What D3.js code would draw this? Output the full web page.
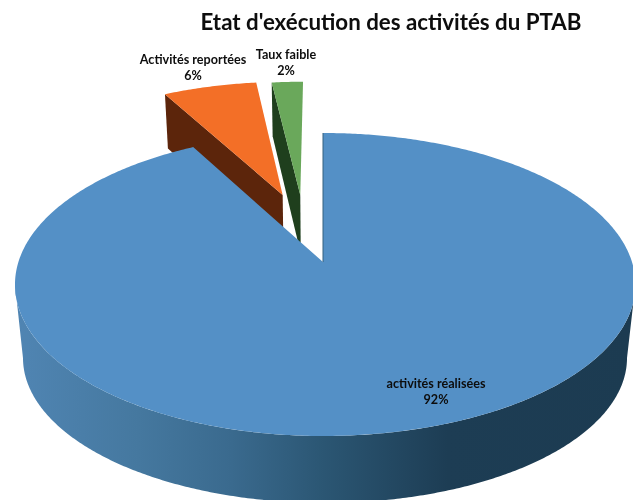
<!DOCTYPE html>
<html>
<head>
<meta charset="utf-8">
<script src="https://cdn.jsdelivr.net/npm/d3@7"></script>
<style>
  html, body { margin: 0; background: #fff; overflow: hidden; }
  svg { filter: blur(0.4px); }
  text { font-family: Lato, "Open Sans", sans-serif; font-weight: 700; fill: #0d0d0d; }
</style>
</head>
<body>
<script>
const categories = ["activités réalisées", "Activités reportées", "Taux faible"];
const values = [92, 6, 2];
const chartTitle = "Etat d'exécution des activités du PTAB";

const w = 633;
const h = 500;

// slice styles, same order as categories
const topColors = ["#5490c6", "#f36f27", "#6aa85b"];
const faceColors = [null, "#5c250b", "#1f3f1d"];
// how far each slice is pulled out, in pie radii
const pullX = [0, -0.142, -0.08];
const pullY = [0, -0.485, -0.485];
const labelX = [436, 193, 286];
const labelY = [388, 64, 59];

// perspective of the tilted disc, fitted on the picture
const cx = 323;
const radiusLeft = 304.6;
const radiusRight = 309;
const persp = 0.1485;
const yNear = 109.25;
const yApex = 262;
const depth = 0.023;
const vanishY = 2984;
// lower edge of the big slice's wall
const wallCx = 325;
const wallCy = 358;
const wallRx = 302;
const wallRy = 145;

function project(u, v, bottom) {
  const k = bottom ? depth : 0;
  const d = 1 - persp * v + k;
  const r = u > 0 ? radiusRight : radiusLeft;
  return [cx + r * u / d, (yNear * v + yApex + k * vanishY) / d];
}

const svg = d3.select("body").append("svg").attr("width", w).attr("height", h);

const grad = svg.append("defs").append("linearGradient")
  .attr("id", "sideGrad")
  .attr("gradientUnits", "userSpaceOnUse")
  .attr("x1", 15).attr("x2", 633).attr("y1", 0).attr("y2", 0);
[[0, "#5085b3"], [0.2, "#45789f"], [0.35, "#3a6a8e"], [0.5, "#2b5673"], [0.7, "#1d3d54"], [1, "#1c3b51"]]
  .forEach(s => grad.append("stop").attr("offset", s[0]).attr("stop-color", s[1]));

const slices = d3.pie().sort(null).value(d => d)(values);
const line = d3.line();

function rim(a0, a1, i, bottom) {
  const n = Math.max(2, Math.ceil((a1 - a0) / 0.01));
  return d3.range(n + 1).map(j => {
    const a = a0 + (a1 - a0) * j / n;
    return project(Math.sin(a) + pullX[i], -Math.cos(a) + pullY[i], bottom);
  });
}
const apex = (i, bottom) => project(pullX[i], pullY[i], bottom);

// exploded slices go behind the big one
[1, 2].forEach(i => {
  const a = slices[i].startAngle;
  const corner = rim(a, a, i, false)[0];
  const cornerB = rim(a, a, i, true)[0];
  svg.append("path")
    .attr("d", line([corner, apex(i, false), apex(i, true), cornerB]) + "Z")
    .attr("fill", faceColors[i]);
});
[1, 2].forEach(i => {
  const s = slices[i];
  svg.append("path")
    .attr("d", line([apex(i, false), ...rim(s.startAngle, s.endAngle, i, false)]) + "Z")
    .attr("fill", topColors[i]);
});

// side wall of the big slice: visible top rim, then the lower edge back
const wallTop = rim(Math.PI * 0.547, Math.PI * 1.453, 0, false);
const wallBottom = d3.range(Math.PI * 0.5, Math.PI * 1.5, 0.01)
  .map(a => [wallCx + wallRx * Math.sin(a), wallCy - wallRy * Math.cos(a)]);
svg.append("path")
  .attr("d", line([...wallTop, ...wallBottom.reverse()]) + "Z")
  .attr("fill", "url(#sideGrad)");

svg.append("path")
  .attr("d", line([apex(0, false), ...rim(slices[0].startAngle, slices[0].endAngle, 0, false)]) + "Z")
  .attr("fill", topColors[0]);

// dark hairline on the cut edge
svg.append("path")
  .attr("d", line([apex(0, false), rim(0, 0, 0, false)[0]]))
  .attr("stroke", "#35607f").attr("stroke-width", 1).attr("fill", "none");

svg.append("text")
  .attr("x", 391).attr("y", 30)
  .attr("text-anchor", "middle")
  .style("font-size", "22.3px")
  .text(chartTitle);

slices.forEach((s, i) => {
  const t = svg.append("text").attr("text-anchor", "middle").style("font-size", "12.6px");
  t.append("tspan").attr("x", labelX[i]).attr("y", labelY[i]).text(categories[i]);
  t.append("tspan").attr("x", labelX[i]).attr("y", labelY[i] + 16).text(values[i] + "%");
});
</script>
</body>
</html>
